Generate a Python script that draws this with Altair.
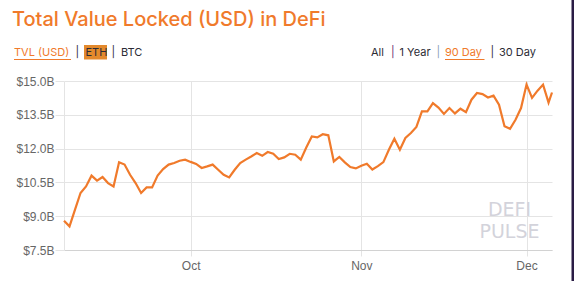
import altair as alt
import pandas as pd

# ---- data ----
dates = pd.date_range("2020-09-08", "2020-12-05", freq="D").strftime("%Y-%m-%dT00:00:00").tolist() + ["2020-12-05T15:00:00"]
tvl = [
    8.80, 8.55, 9.29, 10.03, 10.32, 10.80, 10.58, 10.74, 10.47, 10.32,   # Sep 8-17
    11.39, 11.29, 10.84, 10.47, 10.03, 10.28, 10.28, 10.80, 11.09, 11.29,  # Sep 18-27
    11.36, 11.46, 11.51,                                                  # Sep 28-30
    11.41, 11.32, 11.14, 11.21, 11.29, 11.06, 10.84, 10.72, 11.06, 11.36,  # Oct 1-10
    11.51, 11.65, 11.80, 11.68, 11.85, 11.77, 11.54, 11.61, 11.77, 11.73,  # Oct 11-20
    11.51, 12.05, 12.54, 12.50, 12.64, 12.59, 11.43, 11.63, 11.39, 11.18,  # Oct 21-30
    11.12,                                                                # Oct 31
    11.24, 11.33, 11.07, 11.22, 11.40, 11.95, 12.44, 11.95, 12.47, 12.69,  # Nov 1-10
    12.96, 13.65, 13.65, 14.02, 13.82, 13.54, 13.80, 13.56, 13.77, 13.62,  # Nov 11-20
    14.17, 14.47, 14.42, 14.27, 14.35, 13.95, 12.99, 12.88, 13.28, 13.80,  # Nov 21-30
    14.84, 14.25, 14.57, 14.84, 14.04, 14.49,                             # Dec 1-5 (+ latest)
]
y_ticks = [7.5, 9.0, 10.5, 12.0, 13.5, 15.0]
x_ticks = ["2020-10-01T00:00:00", "2020-11-01T00:00:00", "2020-12-01T00:00:00"]
title_text = "Total Value Locked (USD) in DeFi"
left_menu = ["TVL (USD)", "|", "ETH", "|", "BTC"]
right_menu = ["All", "|", "1 Year", "|", "90 Day", "|", "30 Day"]
watermark = ["DEFI", "PULSE"]

df = pd.DataFrame({"date": dates, "tvl": tvl})
one = pd.DataFrame({"k": [0]})

ORANGE = "#f07a2b"
GRID = "#e4e4e4"
FONT = "Inter"

W, H = 488, 169

line = alt.Chart(df).mark_line(color=ORANGE, strokeWidth=2.2, interpolate="linear").encode(
    x=alt.X("date:T",
            scale=alt.Scale(domain=["2020-09-08T00:00:00", "2020-12-05T15:00:00"]),
            axis=alt.Axis(title=None, values=x_ticks, format="%b", grid=True,
                          gridColor=GRID, domainColor="#d2d2d2", tickColor=GRID,
                          tickSize=6, labelPadding=4, labelFont="Liberation Sans",
                          labelFontSize=12, labelColor="#666666")),
    y=alt.Y("tvl:Q",
            scale=alt.Scale(domain=[7.5, 15.0], nice=False, zero=False),
            axis=alt.Axis(title=None, values=y_ticks, grid=True, gridColor=GRID,
                          domainColor=GRID, tickColor=GRID, tickSize=9, labelPadding=1,
                          labelExpr="'$' + format(datum.value, '.1f') + 'B'",
                          labelFont="Liberation Sans", labelFontSize=12,
                          labelColor="#666666")),
)


def txt(t, x, y, size=11, color="#2b2b35", weight="normal", align="left", font=FONT):
    return alt.Chart(one).mark_text(text=t, align=align, baseline="middle", fontSize=size,
                                    font=font, fontWeight=weight, color=color).encode(
        x=alt.value(x), y=alt.value(y))


def box(x, x2, y, y2, color, **kw):
    return alt.Chart(one).mark_rect(color=color, **kw).encode(
        x=alt.value(x), x2=alt.value(x2), y=alt.value(y), y2=alt.value(y2))


def rule(x, x2, y, color, w=1):
    return alt.Chart(one).mark_rule(color=color, strokeWidth=w).encode(
        x=alt.value(x), x2=alt.value(x2), y=alt.value(y))


ox, oy = 64, 81  # plot origin in page pixels

layers = [line]
# title
layers.append(alt.Chart(one).mark_text(text=title_text, align="left", baseline="alphabetic",
                                       fontSize=20, font=FONT, fontWeight=500, color=ORANGE)
              .encode(x=alt.value(12 - ox), y=alt.value(26 - oy)))
# left menu
row_y = 53 - oy
layers.append(box(84 - ox, 107 - ox, 45 - oy, 59.5 - oy, "#e3892c"))
lx = [14, 75.5, 85.5, 111.5, 121]
for t, x in zip(left_menu, lx):
    col = ORANGE if t == "TVL (USD)" else "#2b2b35"
    layers.append(txt(t, x - ox, row_y, color=col))
layers.append(rule(14 - ox, 71 - ox, 59.5 - oy, ORANGE))
# right menu
rx = [371, 391, 399.5, 436.5, 445, 490.5, 499]
rcol = ["#2b2b35", "#6b2c6f", "#2b2b35", "#8aa0b8", ORANGE, "#2b2b35", "#2b2b35"]
for t, x, c in zip(right_menu, rx, rcol):
    layers.append(txt(t, x - ox, row_y, color=c))
layers.append(rule(445 - ox, 484.5 - ox, 59.5 - oy, ORANGE))
# watermark
for t, yy in zip(watermark, [209.5, 231.5]):
    layers.append(txt(t, 509.5 - ox, yy - oy, size=19, color="#d3d3db",
                      align="center", font="DejaVu Sans"))
# dark frame edge on the right
layers.append(box(571.5 - ox, 580 - ox, -oy, 281 - oy, "#2a1c45", cornerRadiusBottomRight=4))

chart = alt.layer(*layers).properties(
    width=W, height=H,
    autosize=alt.AutoSizeParams(type="none"),
    padding={"left": ox, "top": oy, "right": 574 - ox - W, "bottom": 283 - oy - H},
    background="white",
).configure_view(stroke=None)

chart.save("out.html", embed_options={"renderer": "svg", "actions": False})
